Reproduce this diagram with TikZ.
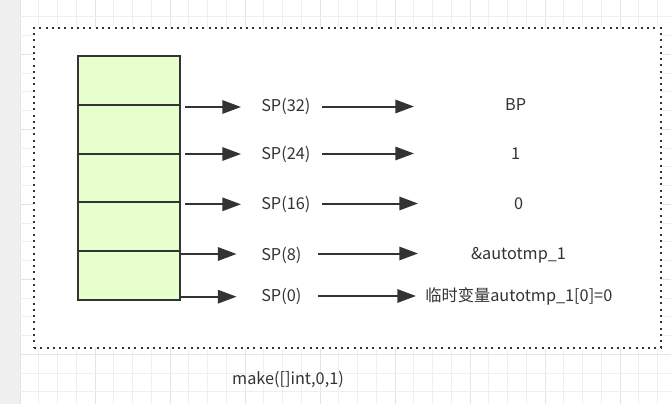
\documentclass[tikz,border=0pt]{standalone}
\usepackage{fontspec}
\setmainfont{Noto Sans CJK SC}
\usetikzlibrary{arrows.meta}
\definecolor{ink}{HTML}{333333}
\definecolor{cellfill}{HTML}{E6FFCC}
\definecolor{gridc}{HTML}{EFEFEF}
\definecolor{gridmaj}{HTML}{E4E4E4}
\definecolor{stripc}{HTML}{F0F0F0}
\begin{document}
\begin{tikzpicture}[x=0.75pt,y=-0.75pt,
  cell/.style={draw=ink,line width=1.5pt,fill=cellfill,anchor=north west,
    minimum width=76.5pt,minimum height=36.6pt,inner sep=0pt,outer sep=0pt},
  arr/.style={draw=ink,line width=1.5pt,-{Triangle[length=14pt,width=10pt]}},
  lbl/.style={text=ink,font=\fontsize{12.2pt}{14pt}\selectfont,inner sep=0pt},
  frame/.style={draw=ink,fill=white,line width=1.5pt,dash pattern=on 1.5pt off 3.2pt,
    anchor=north west,inner sep=0pt,minimum width=470.25pt,minimum height=240pt}]
\useasboundingbox (0,0) rectangle (671,404);
\fill[white] (0,0) rectangle (671,404);
% background grid
\foreach \k in {0,...,34} {
  \pgfmathsetmacro{\xx}{20+18.75*\k}
  \pgfmathtruncatemacro{\m}{mod(\k,4)}
  \ifnum\m=0 \draw[gridmaj,line width=0.75pt] (\xx,0) -- (\xx,404);
  \else \draw[gridc,line width=0.75pt] (\xx,0) -- (\xx,404); \fi
}
\foreach \k in {0,...,20} {
  \pgfmathsetmacro{\yy}{16.8+18.75*\k}
  \pgfmathtruncatemacro{\m}{mod(\k,4)}
  \ifnum\m=2 \draw[gridmaj,line width=0.75pt] (20,\yy) -- (671,\yy);
  \else \draw[gridc,line width=0.75pt] (20,\yy) -- (671,\yy); \fi
}
\fill[stripc] (0,0) rectangle (20,404);
% container
\node[frame] (box) at (33,27) {};
% stack
\node[cell] (c1) at (78,56) {};
\node[cell] (c2) at (78,104.8) {};
\node[cell] (c3) at (78,153.6) {};
\node[cell] (c4) at (78,202.4) {};
\node[cell] (c5) at (78,251.2) {};
% SP labels
\node[lbl,anchor=west] (sp32) at (261,106.7) {SP(32)};
\node[lbl,anchor=west] (sp24) at (261,154) {SP(24)};
\node[lbl,anchor=west] (sp16) at (261,204) {SP(16)};
\node[lbl,anchor=west] (sp8) at (261,255) {SP(8)};
\node[lbl,anchor=west] (sp0) at (261,296.7) {SP(0)};
% values
\node[lbl] (vbp) at (515.6,104.3) {BP};
\node[lbl] (v1) at (515.6,154) {1};
\node[lbl] (v0) at (518.6,203.7) {0};
\node[lbl] (vadr) at (518.5,255) {\&autotmp\_1};
\node[lbl,anchor=west] (vtmp) at (425,296) {临时变量autotmp\_1[0]=0};
% caption
\node[lbl] (cap) at (288,379) {make([]int,0,1)};
% arrow end points
\coordinate (a1) at (185.3,107); \coordinate (b1) at (241,107);
\coordinate (a2) at (185.3,154); \coordinate (b2) at (241,154);
\coordinate (a3) at (185.3,204.3); \coordinate (b3) at (241,204.3);
\coordinate (a4) at (180.6,254); \coordinate (b4) at (236.6,254);
\coordinate (a5) at (180.6,296.7); \coordinate (b5) at (236.6,296.7);
\coordinate (d1) at (322,106.5); \coordinate (e1) at (414,106.5);
\coordinate (d2) at (322,153.5); \coordinate (e2) at (414,153.5);
\coordinate (d3) at (322,203.5); \coordinate (e3) at (418,203.5);
\coordinate (d4) at (318,253.5); \coordinate (e4) at (418,253.5);
\coordinate (d5) at (318,296); \coordinate (e5) at (416,296);
\foreach \i in {1,...,5} {
  \draw[arr] (a\i) -- (b\i);
  \draw[arr] (d\i) -- (e\i);
}
\end{tikzpicture}
\end{document}
